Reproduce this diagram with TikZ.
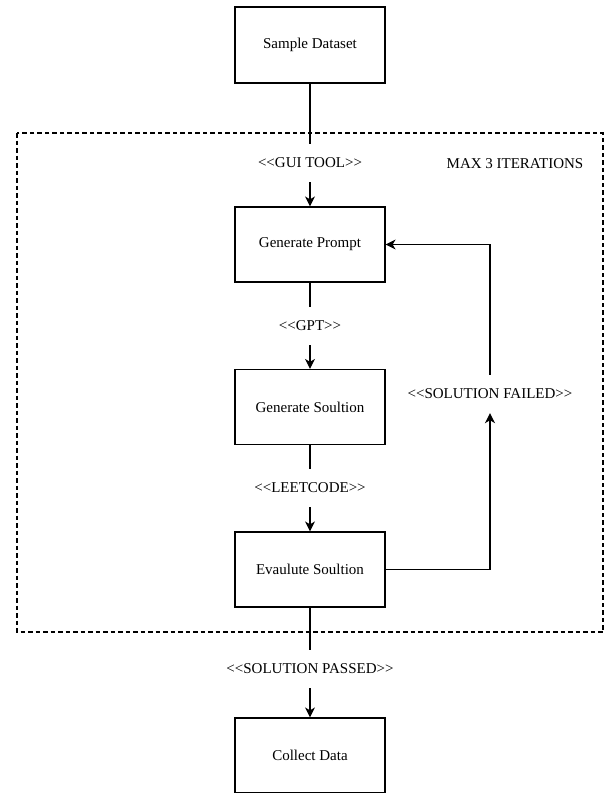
\documentclass[tikz,border=0pt]{standalone}
\usepackage{fontspec}
\setmainfont{Liberation Serif}
\usetikzlibrary{arrows.meta}

\begin{document}
\begin{tikzpicture}[x=1pt, y=-1pt,
        font=\fontsize{15}{18}\selectfont,
        stage/.style={rectangle, draw=black, line width=1.2pt, minimum width=150pt, minimum height=75pt, inner sep=0pt},
        tag/.style={inner sep=0pt, minimum height=38pt},
        flow/.style={line width=1.2pt},
        tip/.style={flow, -{Stealth[length=10pt, width=10pt, inset=3pt]}}]
        \useasboundingbox (0,0) rectangle (606,793);

        % retry region
        \draw[line width=1.2pt, dash pattern=on 4.5pt off 3pt] (17,133) rectangle (603,632);
        \node (iter) at (515,164) {MAX 3 ITERATIONS};

        \node[stage, minimum height=76pt] (S) at (310,45) {Sample Dataset};
        \node[stage] (P) at (310,244.5) {Generate Prompt};
        \node[stage] (G) at (310,407) {Generate Soultion};
        \node[stage] (E) at (310,569.5) {Evaulute Soultion};
        \node[stage] (C) at (310,755.5) {Collect Data};

        \node[tag] (gui) at (310,163) {<{}<GUI TOOL>{}>};
        \node[tag] (gpt) at (310,326) {<{}<GPT>{}>};
        \node[tag] (leet) at (310,488) {<{}<LEETCODE>{}>};
        \node[tag] (pass) at (310,669) {<{}<SOLUTION PASSED>{}>};
        \node[tag] (fail) at (490,394) {<{}<SOLUTION FAILED>{}>};

        \draw[flow] (S) -- (gui);
        \draw[tip] (gui) -- (P);
        \draw[flow] (P) -- (gpt);
        \draw[tip] (gpt) -- (G);
        \draw[flow] (G) -- (leet);
        \draw[tip] (leet) -- (E);
        \draw[flow] (E) -- (pass);
        \draw[tip] (pass) -- (C);

        % back to the prompt when the check fails
        \draw[tip] (E.east) -| (fail.south);
        \draw[tip] (fail.north) |- (P.east);
    \end{tikzpicture}
\end{document}
